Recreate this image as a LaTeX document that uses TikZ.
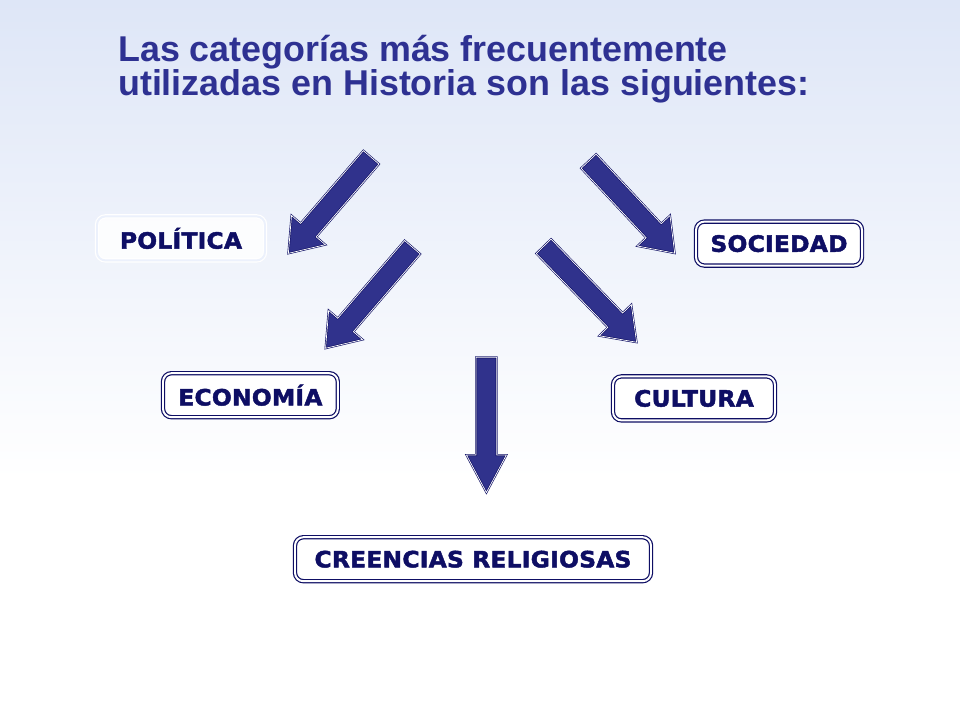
\documentclass[tikz,border=0pt]{standalone}
\usepackage{fontspec}
\setmainfont{Liberation Sans}
\newfontfamily\catfont[LetterSpace=1,FakeStretch=1.04,FakeBold=2]{DejaVu Sans}
\usepackage{xcolor}
\usepackage{tikz}
\usetikzlibrary{shapes}
\usetikzlibrary{shapes.arrows}
\usetikzlibrary{positioning}
\definecolor{titleblue}{RGB}{46,49,146}
\definecolor{catnavy}{RGB}{14,14,100}
\definecolor{arrowblue}{RGB}{48,50,140}
\definecolor{bgblue}{RGB}{222,230,247}
\tikzset{
    catbox/.style = {rectangle, rounded corners=6pt, draw=catnavy, double=white, double distance=1.4pt, line width=0.85pt, fill=white, text=catnavy, inner xsep=0.3cm, minimum height=1.1cm, font=\catfont\bfseries\fontsize{16}{18}\selectfont},
    catboxfaint/.style = {catbox, draw=white, double={rgb,255:red,236;green,241;blue,252}, fill=white, fill opacity=0.85, text opacity=1},
    blockarrow/.style = {single arrow, draw=catnavy, double=white, double distance=0.5pt, line width=0.45pt, fill=arrowblue, inner sep=0.25cm, minimum width=1.1cm, single arrow head extend=0.3cm, single arrow tip angle=72},
}
\begin{document}
\begin{tikzpicture}[
	font=\bfseries
]
% fondo
\fill[white] (0,0) rectangle (24,18);
\shade[top color=bgblue, bottom color=white] (0,6) rectangle (24,18);
%
\node[anchor=base west, align=left, text=titleblue, font=\bfseries\fontsize{25.5}{22.8}\selectfont] at (2.83,15.6) (title) {Las categorías más frecuentemente\\utilizadas en Historia son las siguientes:};
%
\node[catboxfaint, minimum width=4.2cm] at (4.525,12.04) (pol) {POLÍTICA};
\node[catbox, minimum width=4.15cm] at (19.475,11.91) (soc) {SOCIEDAD};
\node[catbox, minimum width=4.37cm] at (6.26,8.12) (eco) {ECONOMÍA};
\node[catbox, minimum width=4.05cm] at (17.35,8.04) (cul) {CULTURA};
\node[catbox, minimum width=8.9cm] at (11.825,4.02) (rel) {CREENCIAS RELIGIOSAS};
%
\node[blockarrow, rotate=229.2, minimum height=3.17cm] at (8.36,13.0) (arrpol) {};
\node[blockarrow, rotate=313.1, minimum height=3.15cm] at (15.67,12.95) (arrsoc) {};
\node[blockarrow, rotate=229.3, minimum height=3.33cm] at (9.34,10.69) (arreco) {};
\node[blockarrow, rotate=314.1, minimum height=3.34cm] at (14.63,10.77) (arrcul) {};
\node[blockarrow, rotate=270, minimum height=3.38cm, minimum width=0.97cm, single arrow head extend=0.24cm, single arrow tip angle=56] at (12.16,7.62) (arrrel) {};
\end{tikzpicture}
\end{document}
